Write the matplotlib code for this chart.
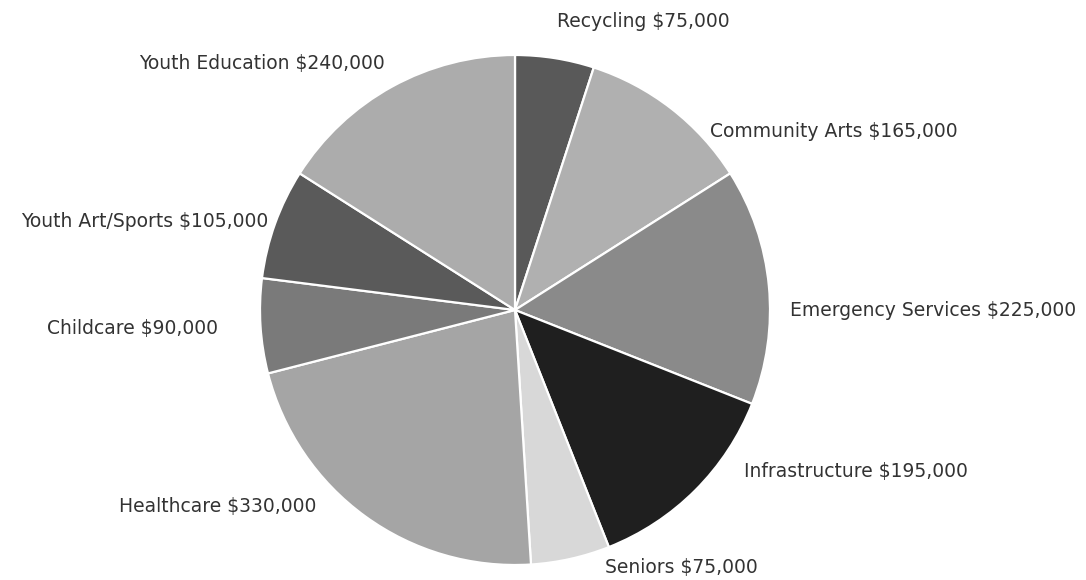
import matplotlib.pyplot as plt

categories = ['Recycling', 'Community Arts', 'Emergency Services', 'Infrastructure',
              'Seniors', 'Healthcare', 'Childcare', 'Youth Art/Sports', 'Youth Education']
amounts = [75000, 165000, 225000, 195000, 75000, 330000, 90000, 105000, 240000]

# grey shades per slice, same order as categories
colors = ['#595959', '#b0b0b0', '#8a8a8a', '#1f1f1f', '#d8d8d8',
          '#a5a5a5', '#7a7a7a', '#5a5a5a', '#acacac']

# label anchors in pie units (radius = 1), with alignment
label_pos = [(0.505, 1.13, 'center'), (0.765, 0.70, 'left'), (1.078, 0.0, 'left'),
             (0.90, -0.635, 'left'), (0.353, -1.008, 'left'), (-0.78, -0.769, 'right'),
             (-1.165, -0.071, 'right'), (-0.969, 0.349, 'right'), (-0.51, 0.965, 'right')]

fig = plt.figure(figsize=(10.86, 5.8), dpi=100)
ax = fig.add_axes([0, 0, 1, 1])
ax.pie(amounts, colors=colors, startangle=90, counterclock=False, radius=1,
       wedgeprops=dict(edgecolor='white', linewidth=1.6))

for name, val, (x, y, ha) in zip(categories, amounts, label_pos):
    ax.text(x, y, '{} ${:,}'.format(name, val), ha=ha, va='center',
            fontsize=13.5, color='#333333')

# pie centre at pixel (515, 310), radius 255 px
ax.set_aspect('auto')
ax.set_xlim(-515 / 255, (1086 - 515) / 255)
ax.set_ylim(-(580 - 310) / 255, 310 / 255)
ax.axis('off')

plt.savefig('out.png', dpi=100)
